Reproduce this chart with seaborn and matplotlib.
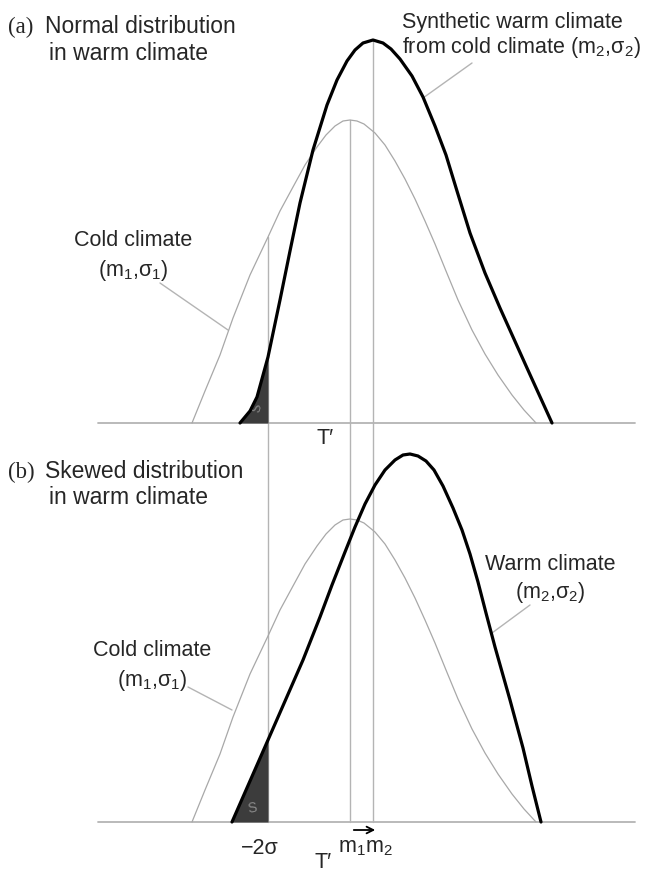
import numpy as np
import pandas as pd
import matplotlib.pyplot as plt
import seaborn as sns

# ─────────────────────────────────────────────
# DATA (x in figure pixels, h = height above baseline)
# ─────────────────────────────────────────────
# cold climate, same curve in both panels
cold_x = [192, 205, 220, 233, 250, 268, 280, 293, 305, 317, 326, 335, 343, 350, 357, 364,
          375, 385, 395, 405, 415, 425, 435, 446, 458, 472, 485, 498, 512, 524, 536]
cold_h = [0, 32, 68, 105, 148, 186, 212, 236, 258, 276, 288, 297, 302, 303, 302, 299,
          290, 278, 262, 244, 224, 202, 179, 152, 123, 93, 69, 48, 28, 13, 0]

# (a) synthetic warm climate (normal)
synth_x = [240, 250, 257, 268, 280, 290, 300, 313, 327, 337, 347, 355, 363, 373, 383, 391,
           400, 412, 423, 435, 446, 457, 470, 485, 500, 527, 552]
synth_h = [0, 12, 26, 66, 123, 172, 220, 273, 318, 343, 362, 373, 380, 383, 380, 374,
           364, 347, 326, 297, 268, 232, 190, 150, 115, 55, 0]

# (b) warm climate (skewed)
warm_x = [232, 268, 303, 320, 332, 345, 355, 365, 375, 385, 395, 403, 410, 418, 426, 434,
          443, 453, 462, 470, 478, 486, 495, 510, 523, 532, 541]
warm_h = [0, 82, 162, 205, 237, 270, 295, 318, 337, 352, 362, 367, 368, 366, 361, 352,
          336, 314, 292, 268, 240, 209, 175, 122, 74, 36, 0]

t_prime = 268
m1 = 350
m2 = 373

# ─────────────────────────────────────────────
# LAYOUT
# ─────────────────────────────────────────────
W, H = 645, 873
BASE_A = H - 423
BASE_B = H - 822

sns.set_theme(style="white")
plt.rcParams["font.family"] = ["Liberation Sans", "DejaVu Sans"]
plt.rcParams["mathtext.fontset"] = "custom"
plt.rcParams["mathtext.rm"] = "Liberation Sans"
plt.rcParams["mathtext.it"] = "Liberation Sans"
plt.rcParams["mathtext.default"] = "regular"

fig = plt.figure(figsize=(6.45, 8.73), dpi=100)
ax = fig.add_axes([0, 0, 1, 1])
ax.set_xlim(0, W)
ax.set_ylim(0, H)
ax.axis("off")

GRAY = "#a8a8a8"
LINE_GRAY = "#b4b4b4"
FS = 15.5
FS_TITLE = 16.5


def curve(xs, hs, base, **kw):
    df = pd.DataFrame({"x": xs, "y": np.array(hs) + base})
    sns.lineplot(data=df, x="x", y="y", ax=ax, sort=False, estimator=None, **kw)


# baselines
for base in (BASE_A, BASE_B):
    ax.plot([98, 635], [base, base], color=LINE_GRAY, lw=1.3, zorder=1)

# vertical guides
cold_at_t = dict(zip(cold_x, cold_h))[t_prime]
ax.plot([t_prime, t_prime], [BASE_B, BASE_A + cold_at_t], color=LINE_GRAY, lw=1.0, zorder=1)
ax.plot([m1, m1], [BASE_B, BASE_A + max(cold_h)], color=LINE_GRAY, lw=1.0, zorder=1)
ax.plot([m2, m2], [BASE_B, BASE_A + max(synth_h)], color=LINE_GRAY, lw=1.0, zorder=1)

# shaded tails below T'
for xs, hs, base in ((synth_x, synth_h, BASE_A), (warm_x, warm_h, BASE_B)):
    xs = np.array(xs)
    hs = np.array(hs)
    m = xs <= t_prime
    ax.fill_between(xs[m], base, hs[m] + base, color="#3c3c3c", lw=0, zorder=2)

# curves
curve(cold_x, cold_h, BASE_A, color=GRAY, lw=0.9, zorder=3)
curve(cold_x, cold_h, BASE_B, color=GRAY, lw=0.9, zorder=3)
curve(synth_x, synth_h, BASE_A, color="black", lw=2.3, zorder=4)
curve(warm_x, warm_h, BASE_B, color="black", lw=2.3, zorder=4)

# panel titles
serif = ["Liberation Serif", "DejaVu Serif"]
ax.text(8, H - 33, "(a)", family=serif, fontsize=FS_TITLE, va="baseline", ha="left")
ax.text(45, H - 33, "Normal distribution", fontsize=FS_TITLE, va="baseline", ha="left")
ax.text(49, H - 60, "in warm climate", fontsize=FS_TITLE, va="baseline", ha="left")
ax.text(8, H - 478, "(b)", family=serif, fontsize=FS_TITLE, va="baseline", ha="left")
ax.text(45, H - 478, "Skewed distribution", fontsize=FS_TITLE, va="baseline", ha="left")
ax.text(49, H - 504, "in warm climate", fontsize=FS_TITLE, va="baseline", ha="left")

# curve labels
ax.text(402, H - 28, "Synthetic warm climate", fontsize=FS, va="baseline", ha="left")
ax.text(402, H - 53, "from cold climate (m$_2$,σ$_2$)", fontsize=FS, va="baseline", ha="left")
ax.plot([472, 423], [H - 63, H - 98], color=LINE_GRAY, lw=1.0)

ax.text(133, H - 246, "Cold climate", fontsize=FS, va="baseline", ha="center")
ax.text(133, H - 276, "(m$_1$,σ$_1$)", fontsize=FS, va="baseline", ha="center")
ax.plot([160, 228], [H - 283, H - 330], color=LINE_GRAY, lw=1.0)

ax.text(152, H - 656, "Cold climate", fontsize=FS, va="baseline", ha="center")
ax.text(152, H - 686, "(m$_1$,σ$_1$)", fontsize=FS, va="baseline", ha="center")
ax.plot([188, 232], [H - 687, H - 710], color=LINE_GRAY, lw=1.0)

ax.text(550, H - 570, "Warm climate", fontsize=FS, va="baseline", ha="center")
ax.text(550, H - 598, "(m$_2$,σ$_2$)", fontsize=FS, va="baseline", ha="center")
ax.plot([530, 492], [H - 605, H - 633], color=LINE_GRAY, lw=1.0)

# axis marks
ax.text(325, H - 438, "T′", fontsize=FS, va="center", ha="center")
ax.text(260, H - 848, "−2σ", fontsize=FS, va="center", ha="center")
ax.text(365, H - 848, "m$_1$m$_2$", fontsize=FS, va="center", ha="center")
ax.text(323, H - 862, "T′", fontsize=FS, va="center", ha="center")
ax.annotate("", xy=(378, H - 830), xytext=(351, H - 830),
            arrowprops=dict(arrowstyle="->", color="black", lw=1.3))

# S labels inside the shaded tails
ax.text(258, H - 408, "S", fontsize=9, color="#8a8a8a", rotation=75, va="center", ha="center")
ax.text(252, H - 808, "S", fontsize=10, color="#8a8a8a", rotation=10, va="center", ha="center")

fig.savefig("out.png", dpi=100)
